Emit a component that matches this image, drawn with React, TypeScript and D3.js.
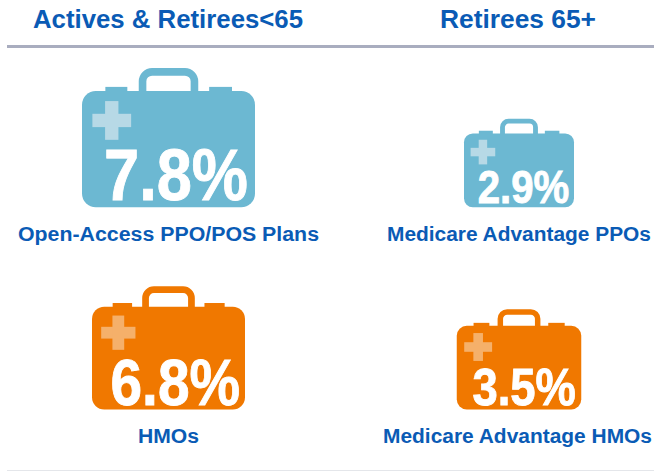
import React from "react";
import * as d3 from "d3";

const groups = ["Actives & Retirees<65", "Retirees 65+"];
const labels = ["Open-Access PPO/POS Plans", "Medicare Advantage PPOs", "HMOs", "Medicare Advantage HMOs"];
const values = [7.8, 2.9, 6.8, 3.5];
const columns = [0, 1, 0, 1];
const rows = [0, 0, 1, 1];
const palettes = [
  { body: "#6cb8d2", cross: "#b7d9e6" },
  { body: "#f07800", cross: "#f5b06a" },
];

const W = 654;
const H = 471;
const colX = d3.scaleOrdinal<number, number>().domain([0, 1]).range([168.5, 519]);
const rowBase = d3.scaleOrdinal<number, number>().domain([0, 1]).range([207.3, 409.5]);
const widthScale = d3.scaleLinear().domain([2.9, 3.5, 6.8, 7.8]).range([110, 124.5, 153, 173]);
const fontScale = d3.scaleLinear().domain([2.9, 3.5, 6.8, 7.8]).range([47, 52, 65, 72]);
const textWidth = d3.scaleLinear().domain([2.9, 3.5, 6.8, 7.8]).range([91.5, 103.5, 129.5, 144]);
const textRight = d3.scaleLinear().domain([2.9, 3.5, 6.8, 7.8]).range([50.3, 57, 71.5, 79.5]);
const baseOffset = d3.scaleLinear().domain([2.9, 3.5, 6.8, 7.8]).range([4, 5, 4.5, 7]);
const labelWidth = [301, 264, 61, 269];
const labelBase = [241, 241, 442.5, 442.5];
const labelX = [168.5, 519, 168.5, 517.5];

function Case({ value, col, row }: { value: number; col: number; row: number }) {
  const w = widthScale(value);
  const cx = colX(col);
  const bottom = rowBase(row);
  const h = w * 0.672;
  const x = cx - w / 2;
  const top = bottom - h;
  const p = palettes[row];
  const u = (f: number) => f * w;
  const sw = u(0.044);
  const crossX = x + u(0.06);
  const crossY = top + u(0.058);
  const crossS = u(0.224);
  const arm = u(0.077);
  const handlePath = d3.path();
  const hl = x + u(0.328) + sw / 2;
  const hr = x + u(0.672) - sw / 2;
  const ht = top - u(0.133) + sw / 2;
  const hb = top + 2;
  const r = u(0.055);
  handlePath.moveTo(hl, hb);
  handlePath.lineTo(hl, ht + r);
  handlePath.arcTo(hl, ht, hl + r, ht, r);
  handlePath.lineTo(hr - r, ht);
  handlePath.arcTo(hr, ht, hr, ht + r, r);
  handlePath.lineTo(hr, hb);
  return (
    <g>
      <path d={handlePath.toString()} fill="none" stroke={p.body} strokeWidth={sw} />
      <rect x={x + u(0.135)} y={top - u(0.024)} width={u(0.127)} height={u(0.04)} fill={p.body} />
      <rect x={x + u(0.735)} y={top - u(0.024)} width={u(0.132)} height={u(0.04)} fill={p.body} />
      <rect x={x} y={top} width={w} height={h} rx={u(0.08)} fill={p.body} />
      <rect x={crossX} y={crossY + (crossS - arm) / 2} width={crossS} height={arm} fill={p.cross} />
      <rect x={crossX + (crossS - arm) / 2} y={crossY} width={arm} height={crossS} fill={p.cross} />
      <text
        x={cx + textRight(value) - textWidth(value)}
        y={bottom - baseOffset(value)}
        fontFamily="Liberation Sans"
        fontWeight={700}
        fontSize={fontScale(value)}
        fill="#ffffff"
        stroke="#ffffff"
        strokeWidth={0.9}
        textLength={textWidth(value)}
        lengthAdjust="spacingAndGlyphs"
      >
        {value.toFixed(1)}%
      </text>
    </g>
  );
}

export default function App() {
  return (
    <svg width={W} height={H} viewBox={`0 0 ${W} ${H}`} style={{ position: "fixed", left: 0, top: 0, background: "#fff" }}>
      {groups.map((g, i) => (
        <text
          key={g}
          x={[33, 440][i]}
          y={28}
          fontFamily="Liberation Sans"
          fontWeight={700}
          fontSize={25.5}
          fill="#0a5bb5"
          textLength={[270, 156][i]}
          lengthAdjust="spacingAndGlyphs"
        >
          {g}
        </text>
      ))}
      <line x1={7} x2={W} y1={46.5} y2={46.5} stroke="#a9adbf" strokeWidth={3} />
      <line x1={7} x2={W} y1={470.5} y2={470.5} stroke="#e4e6ea" strokeWidth={1} />
      {values.map((v, i) => (
        <g key={labels[i]}>
          <Case value={v} col={columns[i]} row={rows[i]} />
          <text
            x={labelX[i]}
            y={labelBase[i]}
            textAnchor="middle"
            fontFamily="Liberation Sans"
            fontWeight={700}
            fontSize={19.5}
            fill="#0a5bb5"
            textLength={labelWidth[i]}
            lengthAdjust="spacingAndGlyphs"
          >
            {labels[i]}
          </text>
        </g>
      ))}
    </svg>
  );
}
